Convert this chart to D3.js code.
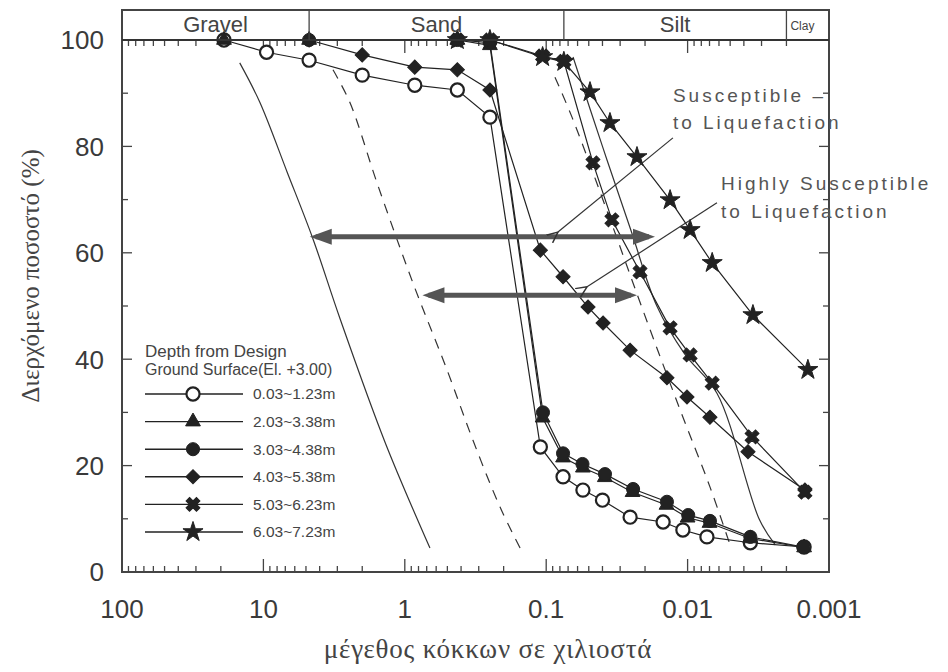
<!DOCTYPE html>
<html>
<head>
<meta charset="utf-8">
<script src="https://cdn.jsdelivr.net/npm/d3@7"></script>
<style>
  body { margin: 0; background: #fff; }
</style>
</head>
<body>
<script>
// grain size (mm) / percent passing, one pair of arrays per depth
const sizesA = [19, 9.5, 4.75, 2.0, 0.85, 0.425, 0.25, 0.11, 0.076, 0.055, 0.040, 0.0255, 0.0149, 0.0108, 0.0073, 0.0036, 0.0015];
const passA  = [100, 97.7, 96.2, 93.4, 91.5, 90.6, 85.5, 23.5, 17.9, 15.4, 13.5, 10.3, 9.4, 7.9, 6.6, 5.5, 4.7];

const sizesB = [19, 4.75, 0.425, 0.25, 0.106, 0.076, 0.055, 0.0385, 0.0245, 0.0141, 0.0100, 0.0070, 0.0036, 0.0015];
const passB  = [100, 100, 100, 99, 29, 21.5, 19.6, 17.8, 15.0, 12.6, 10.2, 9.2, 6.3, 4.6];

const sizesC = [4.75, 0.425, 0.25, 0.1054, 0.076, 0.0554, 0.0384, 0.0243, 0.014, 0.0099, 0.00695, 0.0036, 0.00152];
const passC  = [100, 100, 99.5, 30, 22.3, 20.3, 18.4, 15.6, 13.2, 10.7, 9.6, 6.6, 4.7];

const sizesD = [4.75, 2.0, 0.85, 0.425, 0.25, 0.11, 0.076, 0.0506, 0.0396, 0.0255, 0.014, 0.0101, 0.00695, 0.00374, 0.00148];
const passD  = [100, 97.2, 94.9, 94.4, 90.6, 60.5, 55.5, 49.8, 46.8, 41.7, 36.5, 32.9, 29.1, 22.6, 15.4];

const sizesE = [0.425, 0.25, 0.106, 0.075, 0.0467, 0.0343, 0.0217, 0.0133, 0.0096, 0.0067, 0.0035, 0.00148];
const passE  = [100, 100, 97, 96, 76.9, 66.2, 56.4, 45.9, 40.8, 35.5, 25.4, 15.0];

const sizesF = [0.425, 0.25, 0.106, 0.075, 0.049, 0.0354, 0.0228, 0.0133, 0.0096, 0.0067, 0.00345, 0.00141];
const passF  = [100, 100, 96.8, 95.9, 90.2, 84.4, 78.0, 69.9, 64.3, 58.1, 48.3, 38.0];

const depthLabels = ["0.03~1.23m", "2.03~3.38m", "3.03~4.38m", "4.03~5.38m", "5.03~6.23m", "6.03~7.23m"];

// liquefaction boundary curves
const highCoarseSizes = [14.7, 10.6, 6.8, 4.46, 2.87, 1.38, 0.664];
const highCoarsePass  = [95.7, 88.3, 75.2, 62.6, 47.6, 24.4, 4.5];
const suscCoarseSizes = [3.22, 2.44, 1.57, 0.875, 0.503, 0.33, 0.212, 0.153];
const suscCoarsePass  = [94.4, 88.2, 73.1, 54.3, 38.0, 24.8, 12.2, 4.5];
const suscFineSizes = [0.0867, 0.0657, 0.035, 0.0207, 0.0113, 0.00695, 0.00501];
const suscFinePass  = [93.0, 85.5, 66, 49.2, 30.5, 16.0, 5.1];
const highFineSizes = [0.0646, 0.040, 0.025, 0.0165, 0.0105, 0.0062, 0.0031, 0.0024];
const highFinePass  = [96.8, 80, 64, 50, 41, 33.6, 9.8, 5.1];

// soil classes along the top
const bandNames = ["Gravel", "Sand", "Silt", "Clay"];
const bandEdges = [100, 4.75, 0.075, 0.002, 0.001];

const xTickValues = [100, 10, 1, 0.1, 0.01, 0.001];
const xTickLabels = ["100", "10", "1", "0.1", "0.01", "0.001"];
const yTickValues = [0, 20, 40, 60, 80, 100];

// range arrows: [coarse end, fine end] and level
const arrowEnds = [[4.7, 0.017], [0.75, 0.0228]];
const arrowLevels = [63, 52];
// pointer lines: from the note to the arrow
const pointerFrom = [[0.0127, 81.6], [0.0062, 69.4]];
const pointerTo   = [[0.0826, 63.9], [0.0514, 53.6]];

const w = 948, h = 672;
const ink = "#222";

const svg = d3.select("body").append("svg")
  .attr("width", w).attr("height", h)
  .style("font-family", "Arial, 'Liberation Sans', sans-serif");

const x = d3.scaleLog().domain([100, 0.001]).range([122, 829]);
const y = d3.scaleLinear().domain([0, 100]).range([572, 40]);
const bandTop = 10;

// series table built from the arrays
const series = [
  { sizes: sizesA, pass: passA, type: d3.symbolCircle, size: 135, fill: "#fff", rot: 0 },
  { sizes: sizesB, pass: passB, type: d3.symbolTriangle, size: 95, fill: ink, rot: 0 },
  { sizes: sizesC, pass: passC, type: d3.symbolCircle, size: 135, fill: ink, rot: 0 },
  { sizes: sizesD, pass: passD, type: d3.symbolSquare, size: 100, fill: ink, rot: 45 },
  { sizes: sizesE, pass: passE, type: d3.symbolCross, size: 120, fill: ink, rot: 45 },
  { sizes: sizesF, pass: passF, type: d3.symbolStar, size: 125, fill: ink, rot: 0 }
];
series.forEach((s, i) => {
  s.label = depthLabels[i];
  s.points = s.sizes.map((d, j) => ({ size: d, pass: s.pass[j] }));
});

// boundary curves
const bounds = [
  { sizes: highCoarseSizes, pass: highCoarsePass, dash: null },
  { sizes: suscCoarseSizes, pass: suscCoarsePass, dash: "10,8" },
  { sizes: suscFineSizes, pass: suscFinePass, dash: "10,8" },
  { sizes: highFineSizes, pass: highFinePass, dash: null }
];
const curve = d3.line().x(d => x(d[0])).y(d => y(d[1])).curve(d3.curveCatmullRom);
svg.selectAll(".bound")
  .data(bounds).enter()
  .append("path")
  .attr("d", b => curve(b.sizes.map((d, j) => [d, b.pass[j]])))
  .attr("fill", "none")
  .attr("stroke", "#333")
  .attr("stroke-width", 1.2)
  .attr("stroke-dasharray", b => b.dash);

// ticks, inside the frame
const xt = x.ticks();
const isMajor = v => Math.abs(Math.log10(v) - Math.round(Math.log10(v))) < 1e-6;
const tickG = svg.append("g").attr("stroke", "#444").attr("stroke-width", 1.3);
tickG.selectAll(".xb").data(xt).enter().append("line")
  .attr("x1", d => x(d)).attr("x2", d => x(d))
  .attr("y1", y(0)).attr("y2", d => y(0) - (isMajor(d) ? 13 : 6));
tickG.selectAll(".xt").data(xt).enter().append("line")
  .attr("x1", d => x(d)).attr("x2", d => x(d))
  .attr("y1", y(100)).attr("y2", d => y(100) + (isMajor(d) ? 13 : 6));
const yt = d3.range(0, 101, 10);
tickG.selectAll(".yl").data(yt).enter().append("line")
  .attr("y1", d => y(d)).attr("y2", d => y(d))
  .attr("x1", x(100)).attr("x2", d => x(100) + (d % 20 === 0 ? 10 : 6));
tickG.selectAll(".yr").data(yt).enter().append("line")
  .attr("y1", d => y(d)).attr("y2", d => y(d))
  .attr("x1", x(0.001)).attr("x2", d => x(0.001) - (d % 20 === 0 ? 10 : 6));

// series lines and markers
const line = d3.line().x(d => x(d.size)).y(d => y(d.pass));
svg.selectAll(".sline")
  .data(series).enter()
  .append("path")
  .attr("d", s => line(s.points))
  .attr("fill", "none")
  .attr("stroke", ink)
  .attr("stroke-width", 1.2);

const sym = d3.symbol();
series.forEach(s => {
  svg.append("g").selectAll("path")
    .data(s.points).enter()
    .append("path")
    .attr("d", sym.type(s.type).size(s.size)())
    .attr("transform", d => `translate(${x(d.size)},${y(d.pass)}) rotate(${s.rot})`)
    .attr("fill", s.fill)
    .attr("stroke", ink)
    .attr("stroke-width", s.fill === "#fff" ? 2.2 : 1);
});

// frame and soil-class band
svg.append("rect")
  .attr("x", x(100)).attr("y", bandTop)
  .attr("width", x(0.001) - x(100)).attr("height", y(0) - bandTop)
  .attr("fill", "none").attr("stroke", "#444").attr("stroke-width", 2);
svg.append("line")
  .attr("x1", x(100)).attr("x2", x(0.001))
  .attr("y1", y(100)).attr("y2", y(100))
  .attr("stroke", "#333").attr("stroke-width", 2);
svg.selectAll(".bandEdge")
  .data(bandEdges.slice(1, 4)).enter()
  .append("line")
  .attr("x1", d => x(d)).attr("x2", d => x(d))
  .attr("y1", bandTop).attr("y2", y(100))
  .attr("stroke", "#444").attr("stroke-width", 1.3);
svg.selectAll(".bandName")
  .data(bandNames).enter()
  .append("text")
  .attr("x", (d, i) => i < 3 ? (x(bandEdges[i]) + x(bandEdges[i + 1])) / 2 : x(bandEdges[i]) + 4)
  .attr("y", (d, i) => i < 3 ? 32 : 30)
  .attr("text-anchor", (d, i) => i < 3 ? "middle" : "start")
  .attr("font-size", (d, i) => i < 3 ? 22 : 12)
  .attr("fill", "#444")
  .text(d => d);

// axis labels
svg.selectAll(".ylab")
  .data(yTickValues).enter()
  .append("text")
  .attr("x", 104).attr("y", d => y(d))
  .attr("dy", "0.36em")
  .attr("text-anchor", "end")
  .attr("font-size", 26)
  .attr("fill", "#3a3a3a")
  .text(d => d);
svg.selectAll(".xlab")
  .data(xTickValues).enter()
  .append("text")
  .attr("x", d => x(d)).attr("y", 618)
  .attr("text-anchor", "middle")
  .attr("font-size", 26)
  .attr("fill", "#3a3a3a")
  .text((d, i) => xTickLabels[i]);

svg.append("text")
  .attr("x", 488).attr("y", 658)
  .attr("text-anchor", "middle")
  .attr("font-family", "'Liberation Serif', 'Times New Roman', serif")
  .attr("font-size", 27)
  .attr("letter-spacing", 0.8)
  .attr("fill", "#444")
  .text("μέγεθος κόκκων σε χιλιοστά");
svg.append("text")
  .attr("transform", "translate(39,276) rotate(-90)")
  .attr("text-anchor", "middle")
  .attr("font-family", "'Liberation Serif', 'Times New Roman', serif")
  .attr("font-size", 25)
  .attr("fill", "#444")
  .text("Διερχόμενο ποσοστό (%)");

// range arrows
const arrowG = svg.append("g").attr("fill", "#555");
arrowEnds.forEach((e, i) => {
  const yy = y(arrowLevels[i]), x0 = x(e[0]), x1 = x(e[1]);
  arrowG.append("line")
    .attr("x1", x0 + 6).attr("x2", x1 - 6).attr("y1", yy).attr("y2", yy)
    .attr("stroke", "#555").attr("stroke-width", 5);
  arrowG.append("path").attr("d", `M${x0},${yy} L${x0 + 22},${yy - 8} L${x0 + 22},${yy + 8} Z`);
  arrowG.append("path").attr("d", `M${x1},${yy} L${x1 - 22},${yy - 8} L${x1 - 22},${yy + 8} Z`);
});

// pointer lines with open heads
svg.append("defs").append("marker")
  .attr("id", "head").attr("viewBox", "0 -6 12 12")
  .attr("refX", 1).attr("refY", 0)
  .attr("markerWidth", 12).attr("markerHeight", 12)
  .attr("markerUnits", "userSpaceOnUse")
  .attr("orient", "auto-start-reverse")
  .append("path").attr("d", "M12,-5 L1,0 L12,5")
  .attr("fill", "none").attr("stroke", "#333").attr("stroke-width", 1.5);
pointerFrom.forEach((p, i) => {
  svg.append("line")
    .attr("x1", x(p[0])).attr("y1", y(p[1]))
    .attr("x2", x(pointerTo[i][0])).attr("y2", y(pointerTo[i][1]))
    .attr("stroke", "#333").attr("stroke-width", 1.2)
    .attr("marker-end", "url(#head)");
});

// notes
const notes = [
  { text: "Susceptible –", at: [0.0127, 88.4] },
  { text: "to Liquefaction", at: [0.0127, 83.3] },
  { text: "Highly Susceptible", at: [0.0058, 71.8] },
  { text: "to Liquefaction", at: [0.0058, 66.5] }
];
svg.selectAll(".note")
  .data(notes).enter()
  .append("text")
  .attr("x", d => x(d.at[0])).attr("y", d => y(d.at[1]))
  .attr("font-size", 19)
  .attr("letter-spacing", 3)
  .attr("fill", "#555")
  .text(d => d.text);

// legend
const lg = svg.append("g").attr("fill", "#444");
lg.append("text").attr("x", 145).attr("y", 357).attr("font-size", 17).text("Depth from Design");
lg.append("text").attr("x", 145).attr("y", 375).attr("font-size", 16).text("Ground Surface(El. +3.00)");
const rows = lg.selectAll(".row").data(series).enter().append("g")
  .attr("transform", (d, i) => `translate(0,${394 + i * 27.6})`);
rows.append("line").attr("x1", 145).attr("x2", 243)
  .attr("stroke", ink).attr("stroke-width", 1.4);
rows.append("path")
  .attr("d", s => sym.type(s.type).size(s.size)())
  .attr("transform", s => `translate(193,0) rotate(${s.rot})`)
  .attr("fill", s => s.fill)
  .attr("stroke", ink)
  .attr("stroke-width", s => s.fill === "#fff" ? 2.2 : 1);
rows.append("text")
  .attr("x", 253).attr("dy", "0.35em")
  .attr("font-size", 15.5)
  .text(s => s.label);
</script>
</body>
</html>
